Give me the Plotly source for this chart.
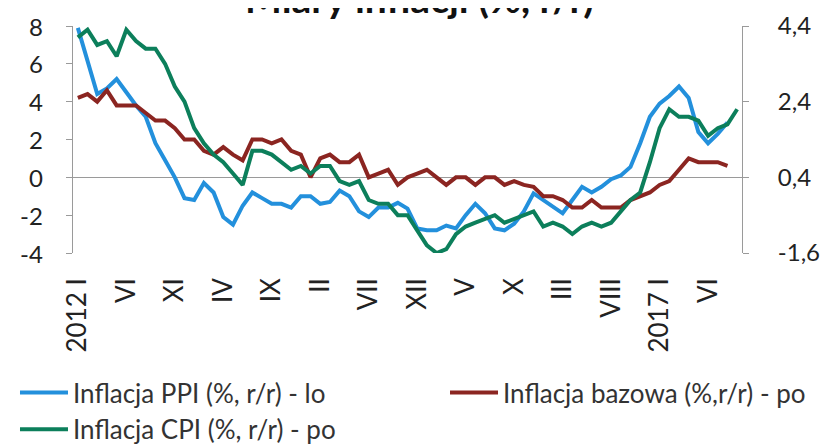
import plotly.graph_objects as go

# Colors: blue PPI, dark red core, green CPI
BLUE = "#2390dc"
RED = "#8b2521"
GREEN = "#0c7f5b"
FONT = "Lato, sans-serif"

# months Jan 2012 .. Sep 2017 (69 categories)
years = [2012, 2013, 2014, 2015, 2016, 2017]
months = [f"{y}-{m:02d}" for y in years for m in range(1, 13)][:69]

tick_pos = [0, 5, 10, 15, 20, 25, 30, 35, 40, 45, 50, 55, 60, 65]
tick_text = ["2012 I", "VI", "XI", "IV", "IX", "II", "VII", "XII", "V", "X",
             "III", "VIII", "2017 I", "VI"]

# PPI, % r/r (left axis)
ppi = [7.9, 6.2, 4.4, 4.7, 5.2, 4.5, 3.8, 3.2, 1.8, 0.9, 0.0, -1.1,
       -1.2, -0.3, -0.8, -2.1, -2.5, -1.5, -0.8, -1.1, -1.4, -1.4, -1.6, -1.0,
       -1.0, -1.4, -1.3, -0.7, -1.0, -1.8, -2.1, -1.6, -1.6, -1.35, -1.65, -2.7,
       -2.8, -2.8, -2.55, -2.7, -2.0, -1.4, -1.9, -2.7, -2.8, -2.45, -1.8, -0.85,
       -1.2, -1.55, -1.9, -1.2, -0.5, -0.8, -0.5, -0.1, 0.1, 0.55, 1.8, 3.2,
       3.9, 4.3, 4.8, 4.2, 2.4, 1.8, 2.3, 2.9]

# CPI, % r/r (right axis)
cpi = [4.1, 4.3, 3.9, 4.0, 3.6, 4.3, 4.0, 3.8, 3.8, 3.4, 2.8, 2.4,
       1.7, 1.3, 1.0, 0.8, 0.5, 0.2, 1.1, 1.1, 1.0, 0.8, 0.6, 0.7,
       0.5, 0.7, 0.7, 0.3, 0.2, 0.3, -0.2, -0.3, -0.3, -0.6, -0.6, -1.0,
       -1.4, -1.6, -1.5, -1.1, -0.9, -0.8, -0.7, -0.6, -0.8, -0.7, -0.6, -0.5,
       -0.9, -0.8, -0.9, -1.1, -0.9, -0.8, -0.9, -0.8, -0.5, -0.2, 0.0, 0.8,
       1.7, 2.2, 2.0, 2.0, 1.9, 1.5, 1.7, 1.8, 2.2]

# core inflation, % r/r (right axis)
core = [2.5, 2.6, 2.4, 2.7, 2.3, 2.3, 2.3, 2.1, 1.9, 1.9, 1.7, 1.4,
        1.4, 1.1, 1.0, 1.2, 1.0, 0.85, 1.4, 1.4, 1.3, 1.4, 1.1, 1.0,
        0.4, 0.9, 1.0, 0.8, 0.8, 1.0, 0.4, 0.5, 0.6, 0.2, 0.4, 0.5,
        0.6, 0.4, 0.2, 0.4, 0.4, 0.2, 0.4, 0.4, 0.2, 0.3, 0.2, 0.15,
        -0.1, -0.1, -0.2, -0.4, -0.4, -0.2, -0.4, -0.4, -0.4, -0.2, -0.1, 0.0,
        0.2, 0.3, 0.6, 0.9, 0.8, 0.8, 0.8, 0.7]

left_ticks = [-4, -2, 0, 2, 4, 6, 8]
left_text = ["-4", "-2", "0", "2", "4", "6", "8"]
right_ticks = [-1.6, 0.4, 2.4, 4.4]
right_text = ["-1,6", "0,4", "2,4", "4,4"]

fig = go.Figure()
fig.add_trace(go.Scatter(
    x=list(range(len(ppi))), y=ppi, mode="lines", legendgroup="a",
    line=dict(color=BLUE, width=4), name="Inflacja PPI (%, r/r) - lo"
))
fig.add_trace(go.Scatter(
    x=list(range(len(core))), y=core, mode="lines", yaxis="y2",
    legend="legend2",
    line=dict(color=RED, width=4), name="Inflacja bazowa (%,r/r) - po"
))
fig.add_trace(go.Scatter(
    x=list(range(len(cpi))), y=cpi, mode="lines", yaxis="y2", legendgroup="b",
    line=dict(color=GREEN, width=4), name="Inflacja CPI (%, r/r) - po"
))

# left tick labels as annotations so their distance from the axis is fixed
for val, txt in zip(left_ticks, left_text):
    fig.add_annotation(
        x=-0.042, xref="paper", xanchor="right", y=val, yref="y",
        yanchor="middle", text=txt, showarrow=False,
        font=dict(size=24, color="#222222"),
    )

# page has an 8px body margin, so the figure is 8px smaller each way
fig.update_layout(
    width=823, height=436,
    margin=dict(l=65, r=89, t=18, b=191, autoexpand=False),
    paper_bgcolor="white", plot_bgcolor="white",
    font=dict(family=FONT, color="#222222"),
    title=dict(text="<b>Miary inflacji (%, r/r)</b>", x=0.5, xanchor="center",
               yref="container", y=0.988, yanchor="bottom",
               font=dict(size=39, color="#111111")),
    xaxis=dict(
        range=[-0.5, len(months) - 0.5], tickmode="array",
        tickvals=tick_pos, ticktext=tick_text, tickangle=-90,
        showgrid=False, showline=False, zeroline=False, ticks="",
        ticklabelstandoff=19, automargin=False,
        tickfont=dict(size=26, color="#222222"),
    ),
    yaxis=dict(
        range=[-4, 8], tickvals=left_ticks, showticklabels=False,
        showgrid=False,
        zeroline=True, zerolinecolor="#9a9a9a", zerolinewidth=1,
        showline=True, linecolor="#9a9a9a", linewidth=1,
        ticks="outside", ticklen=6, tickcolor="#9a9a9a", automargin=False,
    ),
    yaxis2=dict(
        range=[-1.6, 4.4], tickvals=right_ticks, ticktext=right_text,
        overlaying="y", side="right", showgrid=False, zeroline=False,
        showline=True, linecolor="#9a9a9a", linewidth=1,
        ticks="outside", ticklen=6, tickcolor="#9a9a9a", automargin=False,
        ticklabelstandoff=24, tickfont=dict(size=24, color="#222222"),
    ),
    legend=dict(
        orientation="v", xref="container", yref="container",
        x=0.0085, xanchor="left", y=0.172, yanchor="top", itemwidth=48,
        tracegroupgap=0, font=dict(size=26, color="#333333"),
        bgcolor="rgba(0,0,0,0)",
    ),
    legend2=dict(
        orientation="v", xref="container", yref="container",
        x=0.531, xanchor="left", y=0.172, yanchor="top", itemwidth=48,
        font=dict(size=26, color="#333333"), bgcolor="rgba(0,0,0,0)",
    ),
)

fig.write_html("out.html")
